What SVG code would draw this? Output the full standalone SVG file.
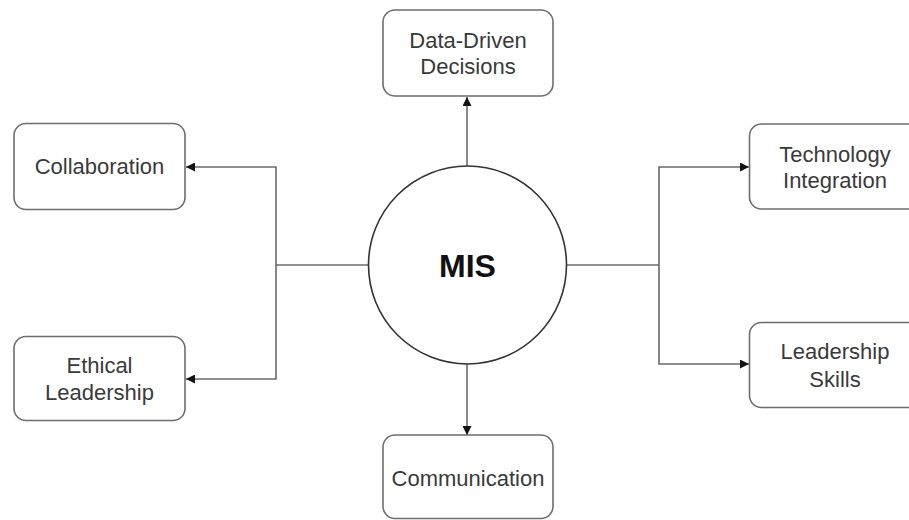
<svg xmlns="http://www.w3.org/2000/svg" width="909" height="520" viewBox="0 0 909 520">
  <style>
    .box { fill: #ffffff; stroke: #6e6e6e; stroke-width: 1.6; }
    .lbl { font-family: "Liberation Sans", Arial, sans-serif; font-size: 22px; fill: #3a3a3a; text-anchor: middle; }
    .conn { fill: none; stroke: #6a6a6a; stroke-width: 1.6; }
    .hub { fill: #ffffff; stroke: #333333; stroke-width: 1.6; }
    .hubtxt { font-family: "Liberation Sans", Arial, sans-serif; font-size: 32px; font-weight: bold; fill: #111111; text-anchor: middle; }
  </style>
  <defs>
    <marker id="arr" viewBox="0 0 10 10" refX="10" refY="5" markerWidth="9" markerHeight="9" markerUnits="userSpaceOnUse" orient="auto">
      <path d="M0,0 L10,5 L0,10 z" fill="#111111"/>
    </marker>
  </defs>
  <rect width="909" height="520" fill="#ffffff"/>

  <g id="connectors">
    <path class="conn" d="M467,166 V97" marker-end="url(#arr)"/>
    <path class="conn" d="M467,364 V435" marker-end="url(#arr)"/>
    <path class="conn" d="M368,265 H276"/>
    <path class="conn" d="M276,265 V167 H186" marker-end="url(#arr)"/>
    <path class="conn" d="M276,265 V379 H186" marker-end="url(#arr)"/>
    <path class="conn" d="M567,265 H659"/>
    <path class="conn" d="M659,265 V167 H749" marker-end="url(#arr)"/>
    <path class="conn" d="M659,265 V364 H749" marker-end="url(#arr)"/>
  </g>

  <g id="mis">
    <circle class="hub" cx="467.5" cy="265" r="99"/>
    <text class="hubtxt" x="467.5" y="277">MIS</text>
  </g>

  <g id="data-driven">
    <rect class="box" x="383" y="10" width="170" height="86" rx="12"/>
    <text class="lbl" x="468" y="48">Data-Driven</text>
    <text class="lbl" x="468" y="74">Decisions</text>
  </g>

  <g id="collaboration">
    <rect class="box" x="14" y="123.5" width="171" height="86" rx="12"/>
    <text class="lbl" x="99.5" y="174">Collaboration</text>
  </g>

  <g id="ethical-leadership">
    <rect class="box" x="14" y="336.5" width="171" height="84" rx="12"/>
    <text class="lbl" x="99.5" y="373">Ethical</text>
    <text class="lbl" x="99.5" y="400">Leadership</text>
  </g>

  <g id="technology-integration">
    <rect class="box" x="749.5" y="124" width="172" height="85" rx="12"/>
    <text class="lbl" x="835" y="162">Technology</text>
    <text class="lbl" x="835" y="188">Integration</text>
  </g>

  <g id="leadership-skills">
    <rect class="box" x="749.5" y="322.5" width="172" height="85" rx="12"/>
    <text class="lbl" x="835" y="359">Leadership</text>
    <text class="lbl" x="835" y="387">Skills</text>
  </g>

  <g id="communication">
    <rect class="box" x="383" y="435" width="170" height="83.5" rx="12"/>
    <text class="lbl" x="468" y="486">Communication</text>
  </g>
</svg>
